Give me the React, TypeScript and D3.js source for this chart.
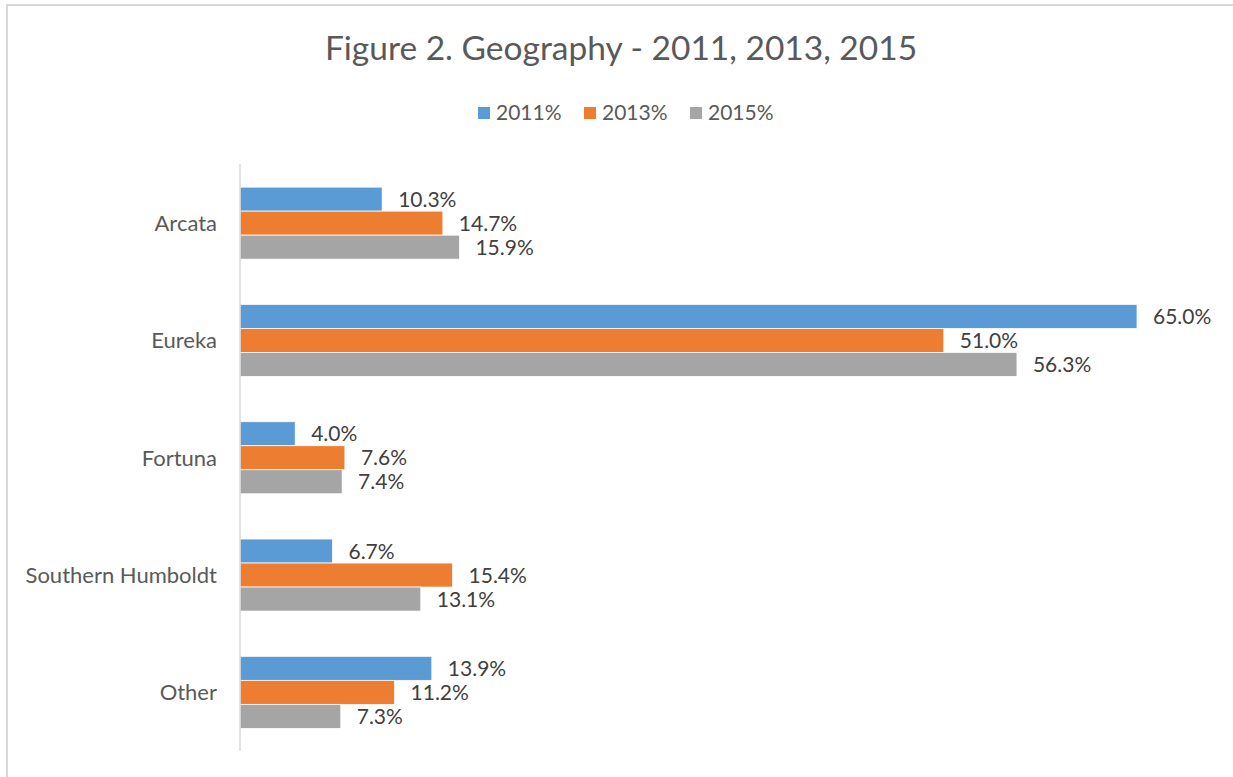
import React from "react";
import * as d3 from "d3";

const categories = ["Arcata", "Eureka", "Fortuna", "Southern Humboldt", "Other"];
const seriesNames = ["2011%", "2013%", "2015%"];
const values2011 = [10.3, 65.0, 4.0, 6.7, 13.9];
const values2013 = [14.7, 51.0, 7.6, 15.4, 11.2];
const values2015 = [15.9, 56.3, 7.4, 13.1, 7.3];
const seriesValues = [values2011, values2013, values2015];
const colors = ["#5B9BD5", "#ED7D31", "#A5A5A5"];

const W = 1233;
const H = 777;
const FONT = "Lato, 'Open Sans', sans-serif";

export default function App() {
  const x = d3.scaleLinear().domain([0, 70]).range([240, 240 + 70 * 13.8]);
  const y = d3
    .scaleBand<string>()
    .domain(categories)
    .range([164.5, 751])
    .paddingInner(0.386)
    .paddingOuter(0.193);
  const ys = d3
    .scaleBand<string>()
    .domain(seriesNames)
    .range([0, y.bandwidth()])
    .padding(0);

  const legendX = [478, 584, 690];

  return (
    <svg
      width={W}
      height={H}
      style={{ position: "absolute", left: 0, top: 0, background: "#fff" }}
      fontFamily={FONT}
    >
      <rect x={7} y={5} width={W + 20} height={H + 20} fill="#fff" stroke="#d9d9d9" strokeWidth={2} />
      <text x={621} y={60} textAnchor="middle" fontSize={33.5} fill="#595959">
        Figure 2. Geography - 2011, 2013, 2015
      </text>
      {seriesNames.map((s, i) => (
        <g key={s}>
          <rect x={legendX[i]} y={107} width={12} height={12} fill={colors[i]} />
          <text x={legendX[i] + 18} y={120} fontSize={21} fill="#595959">
            {s}
          </text>
        </g>
      ))}
      {categories.map((c, ci) => (
        <g key={c}>
          <text
            x={217}
            y={(y(c) as number) + y.bandwidth() / 2 + 8}
            textAnchor="end"
            fontSize={22}
            fill="#595959"
          >
            {c}
          </text>
          {seriesNames.map((s, si) => {
            const v = seriesValues[si][ci];
            const by = (y(c) as number) + (ys(s) as number);
            return (
              <g key={s}>
                <rect
                  x={x(0)}
                  y={by}
                  width={x(v) - x(0)}
                  height={ys.bandwidth()}
                  fill={colors[si]}
                  stroke="#fff"
                  strokeWidth={0.75}
                />
                <text
                  x={x(v) + 16}
                  y={by + ys.bandwidth() / 2 + 7.5}
                  fontSize={21}
                  fill="#404040"
                >
                  {v.toFixed(1) + "%"}
                </text>
              </g>
            );
          })}
        </g>
      ))}
      <line x1={240} x2={240} y1={164} y2={751} stroke="#d9d9d9" strokeWidth={1.5} />
    </svg>
  );
}
